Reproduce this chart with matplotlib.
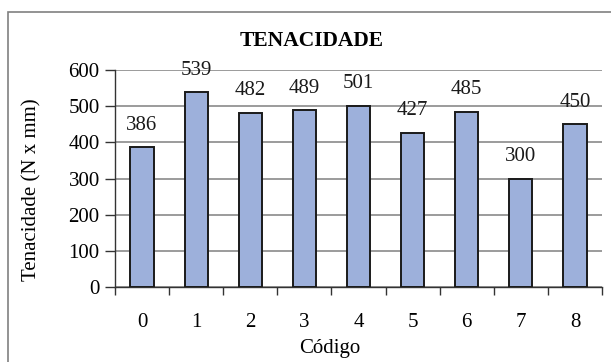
import matplotlib
matplotlib.use("Agg")
import matplotlib.pyplot as plt
from matplotlib.patches import Rectangle
import numpy as np

categories = ["0", "1", "2", "3", "4", "5", "6", "7", "8"]
values = [386, 539, 482, 489, 501, 427, 485, 300, 450]
yticks = [0, 100, 200, 300, 400, 500, 600]

plt.rcParams['font.family'] = ['Liberation Serif', 'DejaVu Serif']
FS = 15

fig = plt.figure(figsize=(6.11, 3.62), dpi=100)
W, H = 611, 362
fig.patches.append(Rectangle((8 / W, -0.1), 1.2, 1 - 12 / H + 0.1,
                             transform=fig.transFigure, fill=False,
                             edgecolor='#808080', linewidth=1.2))

ax = fig.add_axes([115 / W, 1 - 287 / H, (602 - 115) / W, (287 - 70) / H])
x = np.arange(len(categories))
bars = ax.bar(x, values, width=0.43, color='#9DB0DB', edgecolor='#1a1a1a', linewidth=1.4, zorder=3)
for xi, v in zip(x, values):
    ax.annotate(str(v), (xi, v), xytext=(0, 9), textcoords='offset points',
                ha='center', va='bottom', fontsize=FS, color='#1a1a1a', zorder=4)

ax.set_xlim(-0.5, len(categories) - 0.5)
ax.set_ylim(0, 600)
ax.set_yticks(yticks)
ax.set_yticklabels([str(t) for t in yticks], fontsize=FS)
ax.set_xticks(x)
ax.set_xticklabels(categories, fontsize=FS)
ax.set_xticks(np.arange(-0.5, len(categories) + 0.5, 1), minor=True)
ax.tick_params(axis='x', which='major', length=0, pad=19)
ax.tick_params(axis='x', which='minor', length=6, width=1, color='#333333', direction='out')
ax.tick_params(axis='y', length=7, width=1, color='#333333', direction='out', pad=4)
ax.grid(axis='y', color='#808080', linewidth=1.1, zorder=0)
for s in ['top', 'right']:
    ax.spines[s].set_visible(False)
ax.spines['left'].set_color('#333333')
ax.spines['bottom'].set_color('#333333')
ax.spines['left'].set_linewidth(1)
ax.spines['bottom'].set_linewidth(1)

fig.text(330 / W, 1 - 348 / H, "Código", ha='center', va='center', fontsize=FS)
fig.text(32 / W, 1 - 190 / H, "Tenacidade (N x mm)", ha='center', va='center',
         rotation=90, fontsize=FS)
fig.text(312 / W, 1 - 41 / H, "TENACIDADE", ha='center', va='center',
         fontsize=15.5, fontweight='bold')

fig.savefig("out.png", dpi=100)
